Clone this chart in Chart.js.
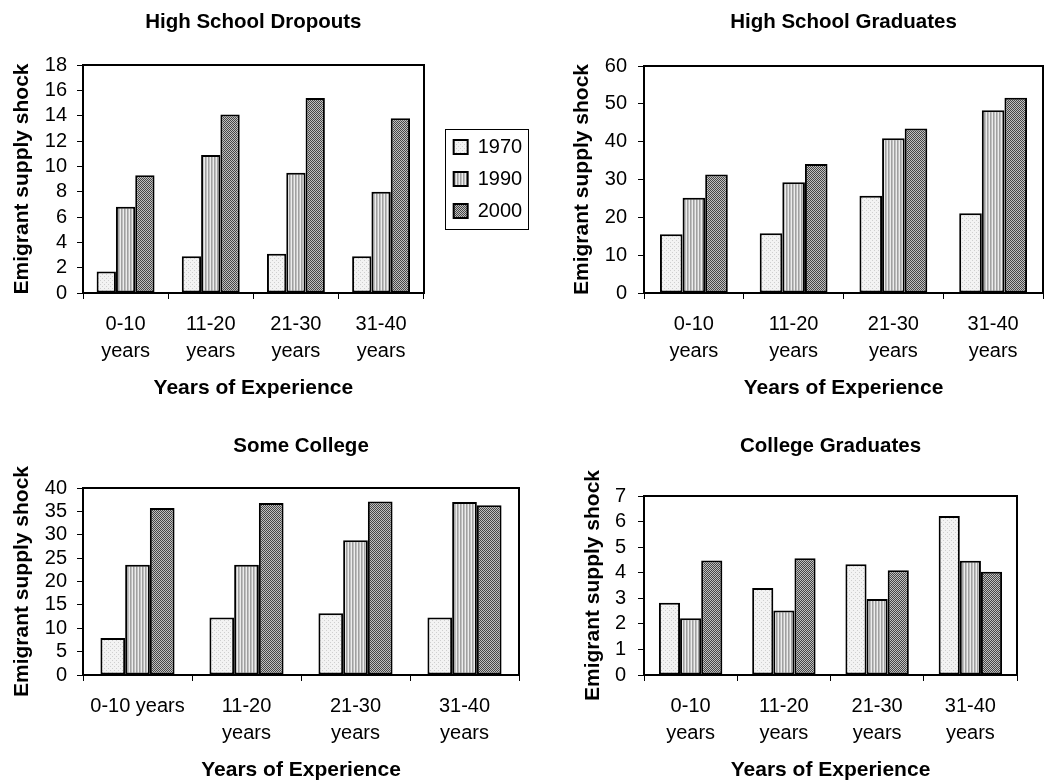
<!DOCTYPE html>
<html>
<head>
<meta charset="utf-8">
<script src="https://cdn.jsdelivr.net/npm/chart.js@4.4.0/dist/chart.umd.min.js"></script>
<style>
    html, body { margin: 0; padding: 0; background: #fff; overflow: hidden; }
    canvas { position: absolute; }
</style>
</head>
<body>
<canvas id="c1" width="530" height="400" style="left:0px;top:0px"></canvas>
<canvas id="c2" width="484" height="400" style="left:560px;top:0px"></canvas>
<canvas id="c3" width="521" height="358" style="left:0px;top:424px"></canvas>
<canvas id="c4" width="473" height="358" style="left:571px;top:424px"></canvas>
<script>
const years = ['1970', '1990', '2000'];
const expLabels = [['0-10', 'years'], ['11-20', 'years'], ['21-30', 'years'], ['31-40', 'years']];
const expLabelsSome = ['0-10 years', ['11-20', 'years'], ['21-30', 'years'], ['31-40', 'years']];

const dropouts1970 = [1.7, 2.9, 3.1, 2.9];
const dropouts1990 = [6.8, 10.9, 9.5, 8.0];
const dropouts2000 = [9.3, 14.1, 15.4, 13.8];

const hsGrads1970 = [15.5, 15.8, 25.7, 21.1];
const hsGrads1990 = [25.2, 29.3, 40.9, 48.3];
const hsGrads2000 = [31.3, 34.1, 43.5, 51.6];

const someCol1970 = [7.9, 12.3, 13.2, 12.3];
const someCol1990 = [23.6, 23.6, 28.8, 37.0];
const someCol2000 = [35.7, 36.8, 37.1, 36.3];

const colGrads1970 = [2.83, 3.4, 4.33, 6.22];
const colGrads1990 = [2.22, 2.52, 2.97, 4.47];
const colGrads2000 = [4.48, 4.57, 4.1, 4.04];

Chart.defaults.font.family = "'Liberation Sans', Arial, sans-serif";
Chart.defaults.color = '#000';

function makePattern(w, h, paint) {
    let c = document.createElement('canvas');
    c.width = w;
    c.height = h;
    let g = c.getContext('2d');
    paint(g);
    return g.createPattern(c, 'repeat');
}

// dotted light, vertical stripes, dark checker
const fills = [
    makePattern(4, 4, g => {
        g.fillStyle = '#f3f3f3';
        g.fillRect(0, 0, 4, 4);
        g.fillStyle = '#cfcfcf';
        g.fillRect(0, 0, 1, 1);
        g.fillRect(2, 2, 1, 1);
    }),
    makePattern(3, 1, g => {
        g.fillStyle = '#ececec'; g.fillRect(0, 0, 1, 1);
        g.fillStyle = '#a0a0a0'; g.fillRect(1, 0, 1, 1);
        g.fillStyle = '#c0c0c0'; g.fillRect(2, 0, 1, 1);
    }),
    makePattern(2, 2, g => {
        g.fillStyle = '#c0c0c0'; g.fillRect(0, 0, 2, 2);
        g.fillStyle = '#464646';
        g.fillRect(0, 0, 1, 1);
        g.fillRect(1, 1, 1, 1);
    })
];

const framePlugin = {
    id: 'frame',
    afterDatasetsDraw(chart) {
        let a = chart.chartArea;
        let ctx = chart.ctx;
        ctx.save();
        ctx.strokeStyle = '#000';
        ctx.lineWidth = 2;
        ctx.strokeRect(Math.round(a.left), Math.round(a.top),
            Math.round(a.right) - Math.round(a.left), Math.round(a.bottom) - Math.round(a.top));
        ctx.restore();
    },
    afterDraw(chart) {
        if (!chart.options.plugins.legend.display) return;
        let boxes = chart.legend.legendHitBoxes;
        let l = Math.min(...boxes.map(b => b.left));
        let r = Math.max(...boxes.map(b => b.left + b.width));
        let t = Math.min(...boxes.map(b => b.top));
        let btm = Math.max(...boxes.map(b => b.top + b.height));
        let ctx = chart.ctx;
        ctx.save();
        ctx.strokeStyle = '#000';
        ctx.lineWidth = 1;
        ctx.strokeRect(Math.round(l - 9) + 0.5, Math.round(t - 8) + 0.5,
            Math.round(r - l + 15), Math.round(btm - t + 16));
        ctx.restore();
    }
};

function drawPanel(id, title, labels, series, yMax, yStep, o) {
    let datasets = series.map((data, i) => ({
        label: years[i],
        data: data,
        backgroundColor: fills[i],
        borderColor: '#000',
        borderWidth: 2,
        borderSkipped: false,
        categoryPercentage: 0.68,
        barPercentage: 1.0
    }));

    let scales = {
        x: {
            grid: { drawOnChartArea: false, drawTicks: true, tickLength: 6, color: '#000', lineWidth: 1 },
            border: { display: false },
            ticks: { font: { size: 20, lineHeight: 1.35 }, padding: 11.5, maxRotation: 0, autoSkip: false },
            title: {
                display: true, text: 'Years of Experience',
                font: { size: 21, weight: 'bold', lineHeight: '24px' },
                padding: { top: 0, bottom: 0 }
            }
        },
        y: {
            min: 0, max: yMax,
            afterFit: s => { s.width = o.yWidth; },
            grid: { drawOnChartArea: false, drawTicks: true, tickLength: 6, color: '#000', lineWidth: 1 },
            border: { display: false },
            ticks: { stepSize: yStep, autoSkip: false, font: { size: 20, lineHeight: 1.2 }, padding: o.tickPad },
            title: {
                display: true, text: 'Emigrant supply shock',
                font: { size: 21, weight: 'bold', lineHeight: '24px' },
                padding: { top: 10, bottom: 0 }
            }
        }
    };
    if (o.legend) {
        // empty right axis only keeps the gap between plot and legend
        scales.gap = {
            position: 'right', min: 0, max: yMax,
            afterFit: s => { s.width = 18; },
            grid: { display: false }, border: { display: false }, ticks: { display: false }
        };
    }

    new Chart(document.getElementById(id), {
        type: 'bar',
        data: { labels: labels, datasets: datasets },
        options: {
            responsive: false,
            animation: false,
            devicePixelRatio: 1,
            layout: { padding: { left: 0, top: 0, bottom: 0, right: o.padRight } },
            plugins: {
                title: {
                    display: true, text: title, fullSize: false,
                    font: { size: 20.5, weight: 'bold', lineHeight: '24px' },
                    padding: { top: 10, bottom: o.titleGap }
                },
                legend: {
                    display: !!o.legend,
                    position: 'right',
                    fullSize: false,
                    labels: { boxWidth: 14, boxHeight: 14, padding: 12, font: { size: 20 } }
                },
                tooltip: { enabled: false }
            },
            scales: scales
        },
        plugins: [framePlugin]
    });
}

drawPanel('c1', 'High School Dropouts', expLabels,
    [dropouts1970, dropouts1990, dropouts2000], 18, 2,
    { yWidth: 83, tickPad: 10, titleGap: 31, padRight: 0, legend: true });

drawPanel('c2', 'High School Graduates', expLabels,
    [hsGrads1970, hsGrads1990, hsGrads2000], 60, 10,
    { yWidth: 84, tickPad: 11, titleGap: 32, padRight: 1 });

drawPanel('c3', 'Some College', expLabelsSome,
    [someCol1970, someCol1990, someCol2000], 40, 5,
    { yWidth: 83, tickPad: 10, titleGap: 30, padRight: 2 });

drawPanel('c4', 'College Graduates', expLabels,
    [colGrads1970, colGrads1990, colGrads2000], 7, 1,
    { yWidth: 73, tickPad: 12, titleGap: 38, padRight: 27 });
</script>
</body>
</html>
